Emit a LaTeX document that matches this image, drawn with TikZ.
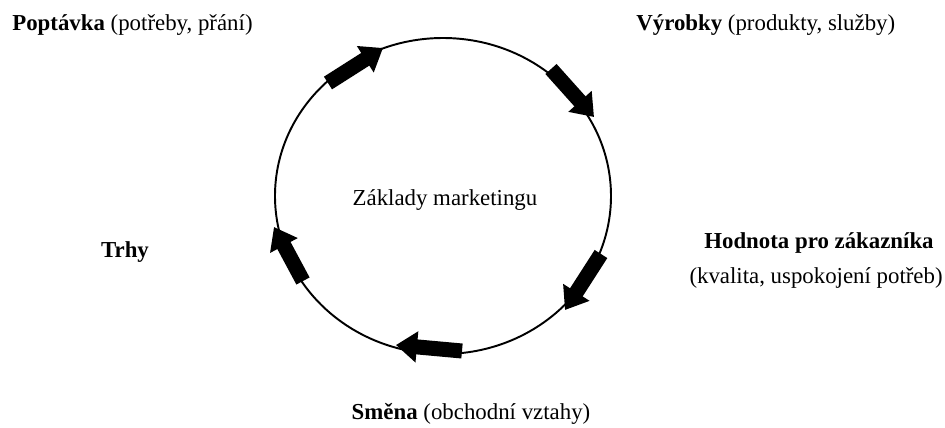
\documentclass[tikz,border=0pt]{standalone}
\usepackage{fontspec}
\setmainfont{Liberation Serif}
\usetikzlibrary{arrows.meta}

\begin{document}
\begin{tikzpicture}[
    lbl/.style={font=\fontsize{13}{15}\selectfont, inner sep=0pt},
    blockarrow/.style={line width=0.3cm, -{Triangle[width=0.6cm,length=0.42cm]}}
  ]
  \useasboundingbox (-8.86,-4.62) rectangle (10.04,3.92);

  \draw[line width=1.1pt] (0,0) ellipse [x radius=3.36, y radius=3.16];
  \node[lbl] (core) at (0.04,-0.08) {Základy marketingu};

  \node[lbl, anchor=base west] (demand) at (-8.62,3.32) {\textbf{Poptávka} (potřeby, přání)};
  \node[lbl, anchor=base west] (goods) at (3.86,3.32) {\textbf{Výrobky} (produkty, služby)};
  \node[lbl, anchor=base] (value) at (7.52,-1.04) {\textbf{Hodnota pro zákazníka}};
  \node[lbl, anchor=base east] (quality) at (10.0,-1.74) {(kvalita, uspokojení potřeb)};
  \node[lbl, anchor=base] (trade) at (0.56,-4.46) {\textbf{Směna} (obchodní vztahy)};
  \node[lbl, anchor=base] (markets) at (-6.36,-1.22) {\textbf{Trhy}};

  \coordinate (s1) at (-2.30,2.26);
  \coordinate (e1) at (-1.20,2.96);
  \coordinate (s2) at (2.16,2.54);
  \coordinate (e2) at (3.02,1.58);
  \coordinate (s3) at (3.16,-1.16);
  \coordinate (e3) at (2.44,-2.28);
  \coordinate (s4) at (0.38,-3.10);
  \coordinate (e4) at (-0.94,-2.98);
  \coordinate (s5) at (-2.80,-1.70);
  \coordinate (e5) at (-3.38,-0.62);

  \draw[blockarrow] (s1) -- (e1);
  \draw[blockarrow] (s2) -- (e2);
  \draw[blockarrow] (s3) -- (e3);
  \draw[blockarrow] (s4) -- (e4);
  \draw[blockarrow] (s5) -- (e5);
\end{tikzpicture}
\end{document}
